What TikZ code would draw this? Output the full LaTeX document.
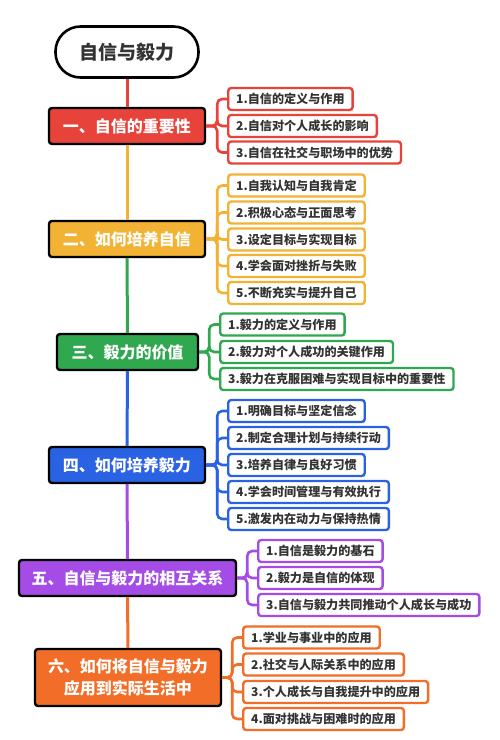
\documentclass[tikz,border=0pt]{standalone}
\usepackage{fontspec}
\setmainfont{Noto Sans CJK SC}
\usetikzlibrary{calc}
\definecolor{cRed}{HTML}{E8433A}
\definecolor{cYel}{HTML}{F2B233}
\definecolor{cGrn}{HTML}{2FA84F}
\definecolor{cBlu}{HTML}{2A62E4}
\definecolor{cPur}{HTML}{A64CE6}
\definecolor{cOrg}{HTML}{F26D28}
\definecolor{txt}{HTML}{333333}
\tikzset{
  rootbox/.style={draw=black, line width=2.6pt, fill=white, rounded corners=25pt,
    minimum width=143pt, minimum height=51pt, font=\fontsize{19}{22}\selectfont\bfseries, text=txt},
  secbox/.style={draw=black, line width=2.4pt, fill=#1, rounded corners=3pt,
    minimum height=36pt, font=\fontsize{16}{22}\selectfont\bfseries, text=white, align=center},
  chbox/.style={draw=#1, line width=2.4pt, fill=white, rounded corners=3pt,
    minimum height=22pt, inner xsep=8pt, inner ysep=0pt, anchor=west,
    font=\fontsize{12.1}{14}\selectfont\bfseries, text=txt},
  spine/.style={draw=#1, line width=3pt},
  brk/.style={draw=#1, line width=2.6pt, rounded corners=5pt},
}
\begin{document}
\begin{tikzpicture}[x=1pt,y=-1pt]
\useasboundingbox (0,0) rectangle (500,740);
% root
\node[rootbox] (root) at (127,52) {自信与毅力};
% sections
\node[secbox=cRed, minimum width=156pt] (s1) at (127,126) {一、自信的重要性};
\node[secbox=cYel, minimum width=156pt] (s2) at (127,239) {二、如何培养自信};
\node[secbox=cGrn, minimum width=141pt] (s3) at (127.5,352) {三、毅力的价值};
\node[secbox=cBlu, minimum width=156pt] (s4) at (127,465) {四、如何培养毅力};
\node[secbox=cPur, minimum width=217pt] (s5) at (127.5,578) {五、自信与毅力的相互关系};
\node[secbox=cOrg, minimum width=186pt, minimum height=57pt] (s6) at (128,677.5) {六、如何将自信与毅力\\应用到实际生活中};
% spine
\draw[spine=cRed] (root.south) -- (s1.north);
\draw[spine=cYel] (s1.south) -- (s2.north);
\draw[spine=cGrn] (s2.south) -- (s3.north);
\draw[spine=cBlu] (s3.south) -- (s4.north);
\draw[spine=cPur] (s4.south) -- (s5.north);
\draw[spine=cOrg] (s5.south) -- (s6.north);
% children 1
\node[chbox=cRed] (c11) at (227,99) {1.自信的定义与作用};
\node[chbox=cRed] (c12) at (227,126) {2.自信对个人成长的影响};
\node[chbox=cRed] (c13) at (227,152.5) {3.自信在社交与职场中的优势};
% children 2
\node[chbox=cYel] (c21) at (227,185.5) {1.自我认知与自我肯定};
\node[chbox=cYel] (c22) at (227,212.5) {2.积极心态与正面思考};
\node[chbox=cYel] (c23) at (227,239.5) {3.设定目标与实现目标};
\node[chbox=cYel] (c24) at (227,266) {4.学会面对挫折与失败};
\node[chbox=cYel] (c25) at (227,293) {5.不断充实与提升自己};
% children 3
\node[chbox=cGrn] (c31) at (219,324.5) {1.毅力的定义与作用};
\node[chbox=cGrn] (c32) at (219,352) {2.毅力对个人成功的关键作用};
\node[chbox=cGrn] (c33) at (219,379) {3.毅力在克服困难与实现目标中的重要性};
% children 4
\node[chbox=cBlu] (c41) at (227,411) {1.明确目标与坚定信念};
\node[chbox=cBlu] (c42) at (227,438) {2.制定合理计划与持续行动};
\node[chbox=cBlu] (c43) at (227,465) {3.培养自律与良好习惯};
\node[chbox=cBlu] (c44) at (227,492) {4.学会时间管理与有效执行};
\node[chbox=cBlu] (c45) at (227,519) {5.激发内在动力与保持热情};
% children 5
\node[chbox=cPur] (c51) at (257,551) {1.自信是毅力的基石};
\node[chbox=cPur] (c52) at (257,578) {2.毅力是自信的体现};
\node[chbox=cPur] (c53) at (257,605) {3.自信与毅力共同推动个人成长与成功};
% children 6
\node[chbox=cOrg] (c61) at (242,637.5) {1.学业与事业中的应用};
\node[chbox=cOrg] (c62) at (242,664.5) {2.社交与人际关系中的应用};
\node[chbox=cOrg] (c63) at (242,692) {3.个人成长与自我提升中的应用};
\node[chbox=cOrg] (c64) at (242,719) {4.面对挑战与困难时的应用};
% brackets
\foreach \c in {c11,c12,c13} \draw[brk=cRed] (s1.east) -- ++(11,0) |- (\c.west);
\foreach \c in {c21,c22,c23,c24,c25} \draw[brk=cYel] (s2.east) -- ++(11,0) |- (\c.west);
\foreach \c in {c31,c32,c33} \draw[brk=cGrn] (s3.east) -- ++(10,0) |- (\c.west);
\foreach \c in {c41,c42,c43,c44,c45} \draw[brk=cBlu] (s4.east) -- ++(11,0) |- (\c.west);
\foreach \c in {c51,c52,c53} \draw[brk=cPur] (s5.east) -- ++(10,0) |- (\c.west);
\foreach \c in {c61,c62,c63,c64} \draw[brk=cOrg] (s6.east) -- ++(10,0) |- (\c.west);
\end{tikzpicture}
\end{document}
